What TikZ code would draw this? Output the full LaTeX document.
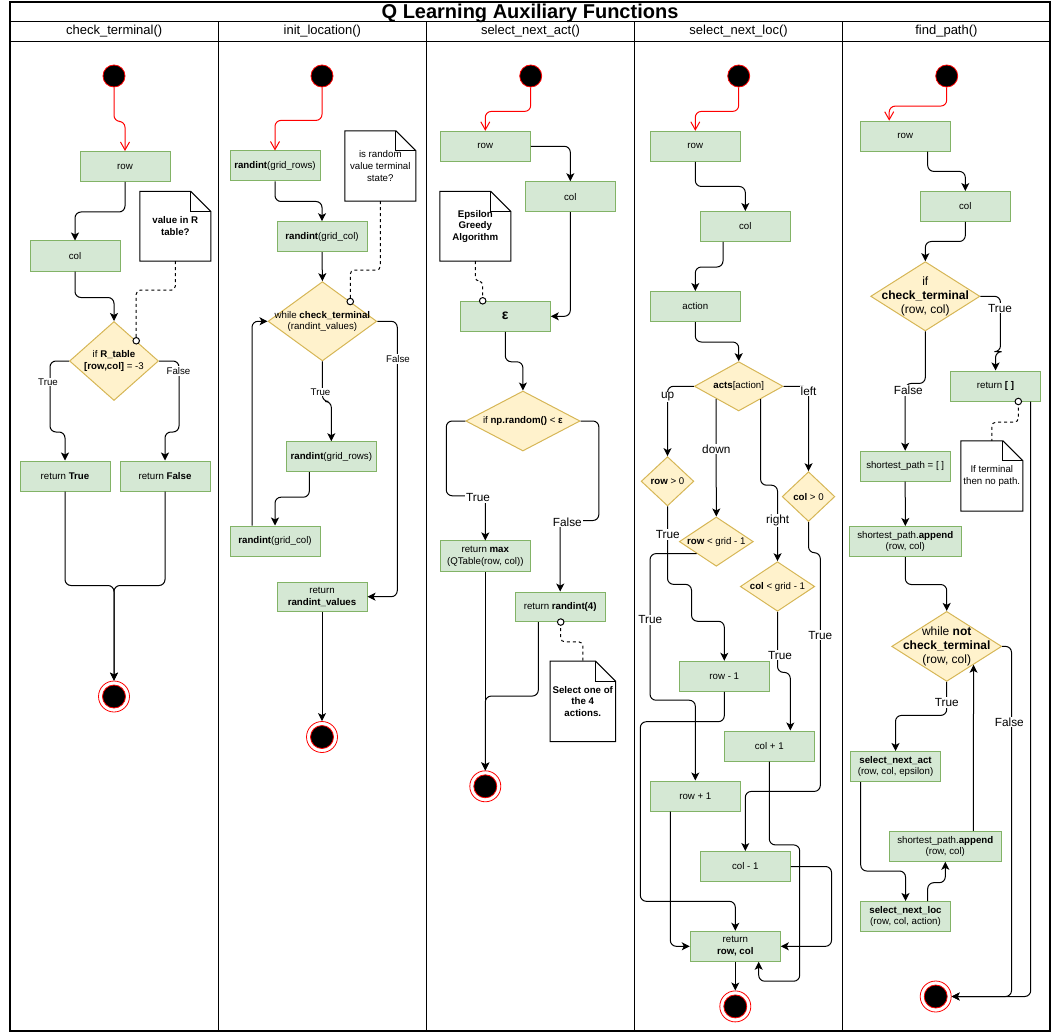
\documentclass[tikz,border=0pt]{standalone}
\usepackage{fontspec}
\setmainfont{Liberation Sans}
\usetikzlibrary{shapes.geometric,arrows.meta,calc}
\definecolor{boxfill}{HTML}{D5E8D4}
\definecolor{boxline}{HTML}{82B366}
\definecolor{diafill}{HTML}{FFF2CC}
\definecolor{dialine}{HTML}{D6B656}
\newcommand{\boxfnt}{\fontsize{9.7}{11.6}\selectfont}
\newcommand{\biglblfnt}{\fontsize{11.8}{14}\selectfont}
\newcommand{\bigdiafnt}{\fontsize{12}{13.6}\selectfont}
\newcommand{\epsfnt}{\fontsize{14}{16}\selectfont}
\newcommand{\hdrfnt}{\fontsize{13}{15}\selectfont}
\newcommand{\ttlfnt}{\fontsize{20}{24}\selectfont\bfseries}
\newcommand{\drawnote}[1]{%
  \filldraw[fill=white,line width=1pt] (#1.north west) -- ([xshift=-20pt]#1.north east) -- ([yshift=-20pt]#1.north east) -- (#1.south east) -- (#1.south west) -- cycle;
  \draw[line width=1pt] ([xshift=-20pt]#1.north east) -- ([xshift=-20pt,yshift=-20pt]#1.north east) -- ([yshift=-20pt]#1.north east);}
\begin{document}
\begin{tikzpicture}[x=1pt,y=-1pt,
  box/.style={draw=boxline,fill=boxfill,minimum width=90pt,minimum height=30pt,inner sep=1pt,align=center,font=\boxfnt,line width=1pt},
  dia/.style={diamond,draw=dialine,fill=diafill,inner sep=0pt,line width=1pt},
  dtext/.style={align=center,font=\boxfnt,inner sep=0pt},
  notebox/.style={align=center,font=\boxfnt,inner sep=2pt},
  conn/.style={draw=black,line width=1pt,rounded corners=6pt,-{Stealth[length=8pt,width=8pt,inset=2pt]}},
  redconn/.style={draw=red,line width=1pt,rounded corners=6pt,-{Straight Barb[length=8pt,width=9pt]}},
  dashconn/.style={draw=black,line width=1pt,dashed,rounded corners=4pt},
  dot/.style={circle,draw,fill=white,minimum size=6.5pt,inner sep=0pt,line width=1pt},
  startst/.style={circle,fill=black,draw=red,minimum size=22pt,inner sep=0pt,line width=0.8pt},
  endouter/.style={circle,draw=red,fill=white,minimum size=31pt,inner sep=0pt,line width=0.8pt},
  endinner/.style={circle,fill=black,draw=red,minimum size=23pt,inner sep=0pt,line width=0.8pt},
  lbl/.style={fill=white,inner sep=1pt,font=\boxfnt},
  biglbl/.style={fill=white,inner sep=1pt,font=\biglblfnt},
  hdr/.style={font=\hdrfnt,inner sep=0pt}]
\useasboundingbox (0,0) rectangle (1051,1032);
% frame
\draw[line width=1.2pt] (10,2) rectangle (1050,1031);
\draw[line width=1.2pt] (10,21.5) -- (1050,21.5);
\draw[line width=1.2pt] (10,41.5) -- (1050,41.5);
\foreach \xx in {218.3,426.5,634.5,842.7} {\draw[line width=1.2pt] (\xx,21.5) -- (\xx,1031);}
\node[font=\ttlfnt,inner sep=0pt,anchor=base] (title) at (530,18.5) {Q Learning Auxiliary Functions};
\node[hdr] (h1) at (114.2,31.5) {check\_terminal()};
\node[hdr] (h2) at (322.4,31.5) {init\_location()};
\node[hdr] (h3) at (530.5,31.5) {select\_next\_act()};
\node[hdr] (h4) at (738.6,31.5) {select\_next\_loc()};
\node[hdr] (h5) at (946.4,31.5) {find\_path()};

% ---------------- lane 1
\node[startst] (s1) at (114,76) {};
\node[box] (r1) at (125,166.5) {row};
\node[box] (c1) at (75,256) {col};
\node[dia,minimum width=89pt,minimum height=79pt] (d1) at (114,361) {};
\node[dtext] (d1t) at (d1) {if \textbf{R\_table}\\\textbf{[row,col]} = -3};
\node[notebox,minimum width=70.7pt,minimum height=69.3pt] (n1) at (175.3,226.3) {};
\drawnote{n1}
\node[notebox] (n1t) at (n1) {\textbf{value in R}\\\textbf{table?}};
\node[box] (t1) at (65,476) {return \textbf{True}};
\node[box] (f1) at (165,476) {return \textbf{False}};
\node[endouter] (e1) at (114,696.5) {};
\node[endinner] (e1i) at (e1) {};
\draw[redconn] (s1.south) -- ++(0,34) -| (r1.north);
\draw[conn] (r1.south) -- ++(0,30) -| (c1.north);
\draw[conn] (c1.south) -- ++(0,26) -| (d1.north);
\draw[conn] (d1.west) -- ++(-19,0) -- ++(0,71) -| (t1.north);
\draw[conn] (d1.east) -- ++(20,0) -- ++(0,71) -| (f1.north);
\draw[conn] (t1.south) -- ++(0,94) -| (e1.north);
\draw[conn] (f1.south) -- ++(0,94) -| (e1.north);
\coordinate (d1dot) at ($(d1.north)!0.494!(d1.east)$);
\draw[dashconn] (n1.south) -- ++(0,29) -| (d1dot);
\node[dot] (d1o) at (d1dot) {};
\node[lbl] (lt1) at (48,382) {True};
\node[lbl] (lf1) at (178.5,371) {False};

% ---------------- lane 2
\node[startst] (s2) at (322,76) {};
\node[box] (a2) at (275,166) {\textbf{randint}(grid\_rows)};
\node[notebox,minimum width=70.7pt,minimum height=70pt] (n2) at (380.3,166) {};
\drawnote{n2}
\node[notebox] (n2t) at (n2) {is random\\value terminal\\state?};
\node[box] (b2) at (322,236.7) {\textbf{randint}(grid\_col)};
\node[dia,minimum width=108.7pt,minimum height=79.3pt] (d2) at (322.4,321.3) {};
\node[dtext] (d2t) at (d2) {while \textbf{check\_terminal}\\(randint\_values)};
\node[box] (c2) at (331.3,456.7) {\textbf{randint}(grid\_rows)};
\node[box] (g2) at (275,541) {\textbf{randint}(grid\_col)};
\node[box,minimum height=29pt] (k2) at (322,596.7) {return\\\textbf{randint\_values}};
\node[endouter] (e2) at (322,737) {};
\node[endinner] (e2i) at (e2) {};
\draw[redconn] (s2.south) -- ++(0,33) -| (a2.north);
\draw[conn] (a2.south) -- ++(0,20) -| (b2.north);
\draw[conn] (b2.south) -- (d2.north);
\coordinate (d2dot) at ($(d2.north)!0.508!(d2.east)$);
\draw[dashconn] (n2.south) -- ++(0,69) -| (d2dot);
\node[dot] (d2o) at (d2dot) {};
\draw[conn] (d2.south) -- ++(0,40) -| (c2.north);
\draw[conn] ([xshift=-22pt]c2.south) -- ++(0,25) -| (g2.north);
\draw[conn] ([xshift=-23pt]g2.north) |- (d2.west);
\draw[conn] (d2.east) -- ++(20,0) |- (k2.east);
\draw[conn] (k2.south) -- (e2.north);
\node[lbl] (lt2) at (320.5,392) {True};
\node[lbl] (lf2) at (398,359) {False};

% ---------------- lane 3
\node[startst] (s3) at (530.7,76) {};
\node[box] (r3) at (485.3,146.3) {row};
\node[box] (c3) at (570.3,196.7) {col};
\node[notebox,minimum width=70.7pt,minimum height=69.3pt] (n3) at (475.3,226.3) {};
\drawnote{n3}
\node[notebox] (n3t) at (n3) {\textbf{Epsilon}\\\textbf{Greedy}\\\textbf{Algorithm}};
\node[box,font=\epsfnt] (ep3) at (505.3,316.3) {\textbf{ε}};
\node[dia,minimum width=114.3pt,minimum height=60pt] (d3) at (522.9,421) {};
\node[dtext] (d3t) at (d3) {if \textbf{np.random()} < \textbf{ε}};
\node[box,minimum height=30.6pt] (m3) at (485.3,556.2) {return \textbf{max}\\(QTable(row, col))};
\node[box,minimum height=29.5pt] (q3) at (560.2,606.8) {return \textbf{randint(4)}};
\node[notebox,minimum width=65pt,minimum height=80pt] (n3b) at (582.8,701.3) {};
\drawnote{n3b}
\node[notebox] (n3bt) at (n3b) {\textbf{Select one of}\\\textbf{the 4}\\\textbf{actions.}};
\node[endouter] (e3) at (485.3,786.3) {};
\node[endinner] (e3i) at (e3) {};
\draw[redconn] (s3.south) -- ++(0,24) -| (r3.north);
\draw[conn] (r3.east) -| (c3.north);
\draw[conn] (c3.south) |- (ep3.east);
\coordinate (ep3dot) at ([xshift=-22.6pt]ep3.north);
\draw[dashconn] (n3.south) -- ++(0,20) -| (ep3dot);
\node[dot] (ep3o) at (ep3dot) {};
\draw[conn] (ep3.south) -- ++(0,30) -| (d3.north);
\draw[conn] (d3.west) -- ++(-19,0) -- ++(0,74.8) -| (m3.north);
\draw[conn] (d3.east) -- ++(18.3,0) -- ++(0,99.5) -| (q3.north);
\draw[conn] (m3.south) -- (e3.north);
\draw[conn] ([xshift=-21.9pt]q3.south) -- ++(0,74) -| (e3.north);
\coordinate (q3dot) at ([xshift=0.5pt]q3.south);
\draw[dashconn] (q3dot) -- ++(0,19.8) -| (n3b.north);
\node[dot] (q3o) at (q3dot) {};
\node[biglbl] (lt3) at (478,497.5) {True};
\node[biglbl] (lf3) at (567.3,522) {False};

% ---------------- lane 4
\node[startst] (s4) at (738.7,76) {};
\node[box] (r4) at (695.3,146.3) {row};
\node[box] (c4) at (745.3,226.5) {col};
\node[box] (a4) at (695.3,306.5) {action};
\node[dia,minimum width=88.7pt,minimum height=49.3pt] (d4) at (738.7,386.3) {};
\node[dtext] (d4t) at (d4) {\textbf{acts}[action]};
\node[dia,minimum width=52.7pt,minimum height=49.3pt] (up4) at (667.5,481.3) {};
\node[dtext] (up4t) at (up4) {\textbf{row} > 0};
\node[dia,minimum width=74pt,minimum height=49.3pt] (dn4) at (716.3,541.6) {};
\node[dtext] (dn4t) at (dn4) {\textbf{row} < grid - 1};
\node[dia,minimum width=74.4pt,minimum height=49.6pt] (rt4) at (777.5,586.5) {};
\node[dtext] (rt4t) at (rt4) {\textbf{col} < grid - 1};
\node[dia,minimum width=52.7pt,minimum height=49.8pt] (lf4) at (808.5,496.6) {};
\node[dtext] (lf4t) at (lf4) {\textbf{col} > 0};
\node[box] (rm4) at (724.3,676.3) {row - 1};
\node[box] (cp4) at (769.3,746) {col + 1};
\node[box] (rp4) at (695.3,796) {row + 1};
\node[box] (cm4) at (745.3,866.5) {col - 1};
\node[box] (rc4) at (735.3,946.3) {return\\\textbf{row, col}};
\node[endouter] (e4) at (735.3,1006.4) {};
\node[endinner] (e4i) at (e4) {};
\draw[redconn] (s4.south) -- ++(0,24) -| (r4.north);
\draw[conn] (r4.south) -- ++(0,24.7) -| (c4.north);
\draw[conn] ([xshift=-22.3pt]c4.south) -- ++(0,25) -| (a4.north);
\draw[conn] (a4.south) -- ++(0,20) -| (d4.north);
\draw[conn] (d4.west) -| (up4.north);
\coordinate (d4dn) at ($(d4.west)!0.495!(d4.south)$);
\draw[conn] (d4dn) -- (dn4.north);
\coordinate (d4rt) at ($(d4.south)!0.487!(d4.east)$);
\draw[conn] (d4rt) -- ++(0,86) -| (rt4.north);
\draw[conn] (d4.east) -| (lf4.north);
\draw[conn] (up4.south) -- ++(0,77.9) -- ++(24,0) -- ++(0,36.9) -| (rm4.north);
\coordinate (dn4tr) at ($(dn4.west)!0.478!(dn4.south)$);
\draw[conn] (dn4tr) -- ++(-46.7,0) -- ++(0,146.6) -| (rp4.north);
\draw[conn] (rt4.south) -- ++(0,60.6) -| ([xshift=21pt]cp4.north);
\draw[conn] (lf4.south) -- ++(0,30.7) -- ++(11.8,0) -- ++(0,238.7) -| (cm4.north);
\draw[conn] (rm4.south) -- ++(0,29.9) -- ++(-84,0) -- ++(0,179.6) -| (rc4.north);
\draw[conn] ([xshift=-25pt]rp4.south) |- (rc4.west);
\draw[conn] (cp4.south) -- ++(0,83.4) -- ++(30.4,0) -- ++(0,136.3) -| ([xshift=23.4pt]rc4.south);
\draw[conn] (cm4.east) -- ++(40.7,0) |- (rc4.east);
\draw[conn] (rc4.south) -- (e4.north);
\node[biglbl] (lup4) at (667.7,397) {up};
\node[biglbl] (ldn4) at (716.3,449) {down};
\node[biglbl] (lrt4) at (777.7,520.5) {right};
\node[biglbl] (llf4) at (808.5,391) {left};
\node[biglbl] (lt4a) at (667.7,534.6) {True};
\node[biglbl] (lt4b) at (650.3,619.8) {True};
\node[biglbl] (lt4c) at (780,655) {True};
\node[biglbl] (lt4d) at (820.3,635) {True};

% ---------------- lane 5
\node[startst] (s5) at (946.7,76) {};
\node[box] (r5) at (905.2,136.2) {row};
\node[box] (c5) at (965.3,206.5) {col};
\node[dia,minimum width=109.3pt,minimum height=69.3pt] (d5) at (925.3,296.3) {};
\node[dtext,font=\bigdiafnt] (d5t) at (d5) {if\\\textbf{check\_terminal}\\(row, col)};
\node[box] (rt5) at (995.5,386) {return \textbf{[ ]}};
\node[notebox,minimum width=61.7pt,minimum height=70pt] (n5) at (991.8,476) {};
\drawnote{n5}
\node[notebox] (n5t) at (n5) {If terminal\\then no path.};
\node[box] (sp5) at (905.2,466.2) {shortest\_path = [ ]};
\node[box,minimum width=112pt] (ap5) at (905.3,541.5) {shortest\_path.\textbf{append}\\(row, col)};
\node[dia,minimum width=110pt,minimum height=70pt] (w5) at (946.7,646.4) {};
\node[dtext,font=\bigdiafnt] (w5t) at (w5) {while \textbf{not}\\\textbf{check\_terminal}\\(row, col)};
\node[box] (sa5) at (895.5,766.5) {\textbf{select\_next\_act}\\(row, col, epsilon)};
\node[box,minimum width=112pt] (ap5b) at (945.3,846.3) {shortest\_path.\textbf{append}\\(row, col)};
\node[box] (sl5) at (905.5,916.5) {\textbf{select\_next\_loc}\\(row, col, action)};
\node[endouter] (e5) at (935.7,996.5) {};
\node[endinner] (e5i) at (e5) {};
\draw[redconn] (s5.south) -- ++(0,18.7) -| ([xshift=-16pt]r5.north);
\draw[conn] ([xshift=22.5pt]r5.south) -- ++(0,19.7) -| (c5.north);
\draw[conn] (c5.south) -- ++(0,19.5) -| (d5.north);
\draw[conn] (d5.east) -- ++(20,0) -- ++(0,55.4) -| (rt5.north);
\draw[conn] (d5.south) -- ++(0,52) -| (sp5.north);
\coordinate (rt5dot) at ([xshift=22.8pt]rt5.south);
\draw[dashconn] (rt5dot) -- ++(0,20.7) -| (n5.north);
\node[dot] (rt5o) at (rt5dot) {};
\draw[conn] ([xshift=35.2pt]rt5.south) |- (e5.east);
\draw[conn] (sp5.south) -- (ap5.north);
\draw[conn] (ap5.south) -- ++(0,27.5) -| (w5.north);
\draw[conn] (w5.south) -- ++(0,33.5) -| (sa5.north);
\draw[conn] (w5.east) -- ++(9.3,0) |- (e5.east);
\draw[conn] ([xshift=-34.8pt]sa5.south) -- ++(0,89) -| (sl5.north);
\draw[conn] ([xshift=22.2pt]sl5.north) -- ++(0,-18.3) -| (ap5b.south);
\coordinate (w5e) at ($(w5.south)!0.484!(w5.east)$);
\draw[conn] ([xshift=28pt]ap5b.north) -- (w5e);
\node[biglbl] (lt5a) at (1000,308.3) {True};
\node[biglbl] (lf5a) at (908.3,390.7) {False};
\node[biglbl] (lt5b) at (946.7,702.5) {True};
\node[biglbl] (lf5b) at (1009.3,721.9) {False};
\end{tikzpicture}
\end{document}
